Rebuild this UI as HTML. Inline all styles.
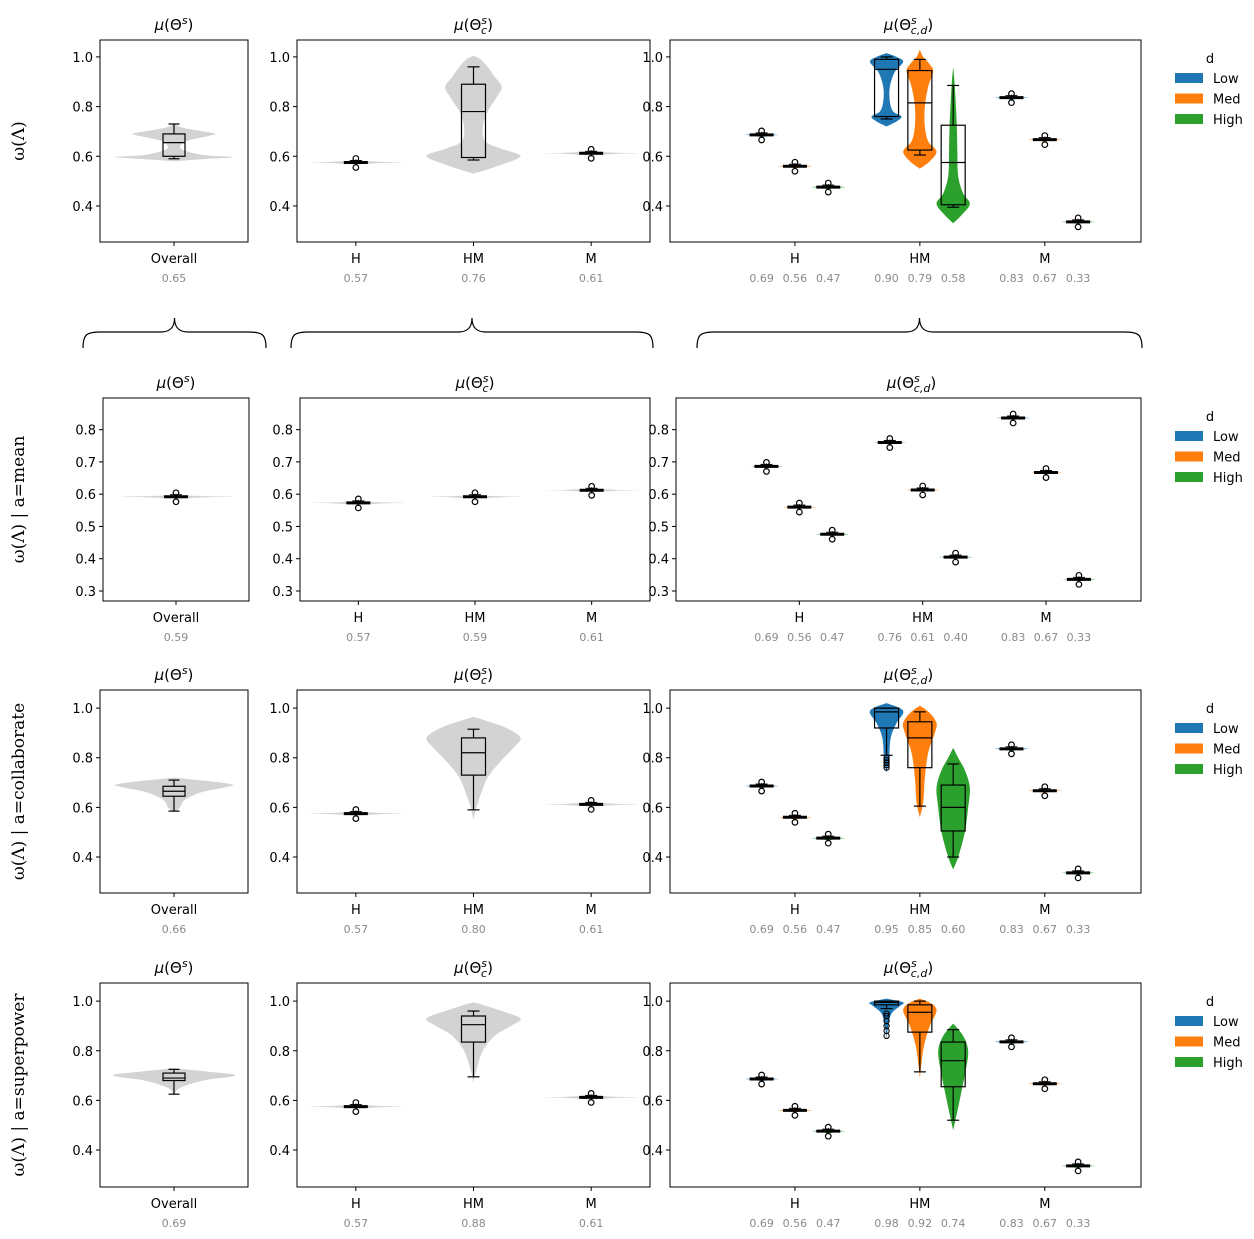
<!DOCTYPE html>
<html><head><meta charset="utf-8">
<style>
html,body{margin:0;padding:0;background:#fff;}
svg{display:block;font-family:"DejaVu Sans","Liberation Sans",sans-serif;}
</style></head>
<body>
<svg id="fig" width="1254" height="1239" viewBox="0 0 1254 1239" xmlns="http://www.w3.org/2000/svg"></svg>
<script>
// ---------- DATA ----------
const catLabels = ['H','HM','M'];
const hueLabels = ['Low','Med','High'];
const hueColors = ['#1f77b4','#ff7f0e','#2ca02c'];
const rowLabels = ['ω(Λ)','ω(Λ) | a=mean','ω(Λ) | a=collaborate','ω(Λ) | a=superpower'];
const overallMeans = ['0.65','0.59','0.66','0.69'];
const catMeans = [['0.57','0.76','0.61'],['0.57','0.59','0.61'],['0.57','0.80','0.61'],['0.57','0.88','0.61']];
const hueMeans = [
 ['0.69','0.56','0.47','0.90','0.79','0.58','0.83','0.67','0.33'],
 ['0.69','0.56','0.47','0.76','0.61','0.40','0.83','0.67','0.33'],
 ['0.69','0.56','0.47','0.95','0.85','0.60','0.83','0.67','0.33'],
 ['0.69','0.56','0.47','0.98','0.92','0.74','0.83','0.67','0.33']];
const catCenters = [[0.575,null,0.612],[0.573,0.592,0.612],[0.575,null,0.612],[0.575,null,0.612]];
const hueCenters = [
 [0.686,0.560,0.476,null,null,null,0.836,0.667,0.336],
 [0.686,0.560,0.476,0.760,0.613,0.405,0.836,0.667,0.336],
 [0.686,0.560,0.476,null,null,null,0.836,0.667,0.336],
 [0.686,0.560,0.476,null,null,null,0.836,0.667,0.336]];
const overallCenters = [null,0.592,null,null];
const overallViolin = [
 [[0.58,0],[0.59,0.6],[0.597,1],[0.605,0.5],[0.63,0.12],[0.66,0.2],[0.68,0.55],[0.69,0.7],[0.70,0.5],[0.715,0.15],[0.73,0]],
 null,
 [[0.58,0],[0.6,0.1],[0.63,0.18],[0.66,0.45],[0.68,0.85],[0.69,1],[0.70,0.8],[0.715,0.2],[0.72,0]],
 [[0.62,0],[0.65,0.1],[0.68,0.5],[0.695,0.95],[0.705,1],[0.715,0.6],[0.73,0]]];
const overallBox = [[0.59,0.60,0.655,0.69,0.73],null,[0.585,0.645,0.665,0.685,0.71],[0.625,0.68,0.69,0.71,0.725]];
const hmViolin = [
 [[0.53,0],[0.56,0.5],[0.60,1],[0.63,0.6],[0.66,0.25],[0.72,0.2],[0.78,0.3],[0.84,0.5],[0.88,0.6],[0.92,0.45],[0.96,0.3],[0.99,0.15],[1.005,0]],
 null,
 [[0.55,0],[0.6,0.06],[0.65,0.15],[0.72,0.3],[0.78,0.55],[0.84,0.85],[0.88,1],[0.92,0.7],[0.95,0.25],[0.965,0]],
 [[0.67,0],[0.72,0.06],[0.8,0.2],[0.86,0.45],[0.9,0.8],[0.93,1],[0.96,0.6],[0.985,0.2],[0.995,0]]];
const hmBox = [[0.585,0.595,0.78,0.89,0.96],null,[0.59,0.73,0.82,0.88,0.915],[0.695,0.835,0.905,0.94,0.96]];
const hmHueViolin = [
 [[[0.72,0],[0.74,0.6],[0.76,0.9],[0.78,0.4],[0.82,0.2],[0.88,0.2],[0.94,0.5],[0.98,1],[1.0,0.6],[1.015,0]],
  [[0.55,0],[0.58,0.6],[0.62,1],[0.66,0.5],[0.72,0.3],[0.8,0.3],[0.88,0.5],[0.94,0.8],[0.97,0.6],[1.0,0.2],[1.03,0]],
  [[0.33,0],[0.37,0.6],[0.41,1],[0.45,0.6],[0.52,0.3],[0.62,0.25],[0.72,0.22],[0.82,0.15],[0.9,0.08],[0.96,0]]],
 null,
 [[[0.74,0],[0.8,0.15],[0.88,0.25],[0.94,0.6],[0.98,1],[1.0,0.8],[1.02,0]],
  [[0.56,0],[0.62,0.2],[0.72,0.3],[0.82,0.5],[0.9,0.9],[0.94,1],[0.98,0.6],[1.01,0]],
  [[0.35,0],[0.4,0.3],[0.5,0.7],[0.6,0.9],[0.68,1],[0.75,0.7],[0.8,0.3],[0.84,0]]],
 [[[0.85,0],[0.9,0.1],[0.95,0.3],[0.98,0.8],[0.995,1],[1.01,0]],
  [[0.69,0],[0.74,0.08],[0.82,0.25],[0.9,0.6],[0.96,1],[0.99,0.7],[1.01,0]],
  [[0.48,0],[0.54,0.2],[0.62,0.45],[0.72,0.75],[0.8,0.9],[0.86,0.6],[0.91,0]]]];
const hmHueBox = [
 [[0.75,0.76,0.95,0.99,1.0],[0.605,0.625,0.815,0.945,0.99],[0.395,0.405,0.575,0.725,0.885]],
 null,
 [[0.81,0.92,0.985,1.0,1.0],[0.605,0.76,0.88,0.945,0.985],[0.40,0.505,0.60,0.69,0.775]],
 [[0.97,0.985,0.995,1.0,1.0],[0.715,0.875,0.955,0.985,1.0],[0.52,0.655,0.76,0.835,0.885]]];
const hmHueOutliers = [[[],[],[]],null,[[0.76,0.77,0.78,0.79,0.80],[],[]],[[0.86,0.88,0.90,0.92,0.94,0.95],[],[]]];

// ---------- LAYOUT ----------
const rows = [
 {top:40,bot:242,ymin:0.255,ymax:1.068,ticks:[0.4,0.6,0.8,1.0],p:[[100,248],[297,650],[670,1141]]},
 {top:398,bot:601,ymin:0.269,ymax:0.898,ticks:[0.3,0.4,0.5,0.6,0.7,0.8],p:[[103,249],[300,650],[676,1141]]},
 {top:690,bot:893,ymin:0.255,ymax:1.073,ticks:[0.4,0.6,0.8,1.0],p:[[100,248],[297,650],[670,1141]]},
 {top:983,bot:1187,ymin:0.251,ymax:1.073,ticks:[0.4,0.6,0.8,1.0],p:[[100,248],[297,650],[670,1141]]}];
const NS='http://www.w3.org/2000/svg';
const svg=document.getElementById('fig');
function el(tag,attrs,parent,text){const e=document.createElementNS(NS,tag);for(const k in attrs)e.setAttribute(k,attrs[k]);if(text!==undefined)e.textContent=text;(parent||svg).appendChild(e);return e;}

function smoothPath(pts){
  let d='M'+pts[0][0]+','+pts[0][1];
  for(let i=0;i<pts.length-1;i++){
    const p0=pts[Math.max(0,i-1)],p1=pts[i],p2=pts[i+1],p3=pts[Math.min(pts.length-1,i+2)];
    const c1=[p1[0]+(p2[0]-p0[0])/6,p1[1]+(p2[1]-p0[1])/6];
    const c2=[p2[0]-(p3[0]-p1[0])/6,p2[1]-(p3[1]-p1[1])/6];
    d+=' C'+c1+' '+c2+' '+p2;
  }
  return d;
}
function drawViolin(g,knots,cx,hw,yf,color,name){
  const right=knots.map(k=>[cx+k[1]*hw,yf(k[0])]);
  const left=knots.slice().reverse().map(k=>[cx-k[1]*hw,yf(k[0])]);
  const d=smoothPath(right)+' L'+left[0]+' '+smoothPath(left).slice(1)+' Z';
  const p=el('path',{d:d,fill:color,stroke:'none'},g);
  
  
}
function drawBox(g,b,cx,yf,bw,name){
  const gg=el('g',{},g);
  
  
  const st={stroke:'#000','stroke-width':1.2,fill:'none'};
  el('line',Object.assign({x1:cx,x2:cx,y1:yf(b[0]),y2:yf(b[1])},st),gg);
  el('line',Object.assign({x1:cx,x2:cx,y1:yf(b[3]),y2:yf(b[4])},st),gg);
  el('line',Object.assign({x1:cx-bw/4,x2:cx+bw/4,y1:yf(b[0]),y2:yf(b[0])},st),gg);
  el('line',Object.assign({x1:cx-bw/4,x2:cx+bw/4,y1:yf(b[4]),y2:yf(b[4])},st),gg);
  el('rect',Object.assign({x:cx-bw/2,y:yf(b[3]),width:bw,height:Math.max(0.5,yf(b[1])-yf(b[3]))},st),gg);
  el('line',Object.assign({x1:cx-bw/2,x2:cx+bw/2,y1:yf(b[2]),y2:yf(b[2])},st),gg);
}
function drawSpindle(g,c,cx,hw,yf,color,spread,name){
  drawViolin(g,[[c-spread,0],[c-spread*0.3,0.5],[c,1],[c+spread*0.3,0.5],[c+spread,0]],cx,hw,yf,color,name+'-violin');
  const gg=el('g',{},g);
  
  
  el('line',{x1:cx-12,x2:cx+12,y1:yf(c),y2:yf(c),stroke:'#000','stroke-width':3},gg);
  el('line',{x1:cx-6,x2:cx+6,y1:yf(c)-2,y2:yf(c)-2,stroke:'#000','stroke-width':1},gg);
  el('line',{x1:cx,x2:cx,y1:yf(c)-3,y2:yf(c)+3,stroke:'#000','stroke-width':1.2},gg);
  [yf(c)+5,yf(c)-4].forEach((cy,i)=>{const o=el('circle',{cx:cx,cy:cy,r:2.8,fill:'none',stroke:'#000','stroke-width':1.2},g);
    });
}
function muTitle(g,x,y,sub){
  const t=el('text',{x:x,y:y,'text-anchor':'middle','font-size':15},g);
  
  el('tspan',{'font-style':'italic'},t,'μ');
  el('tspan',{},t,'(Θ');
  el('tspan',{'font-size':11,'font-style':'italic',dy:-6},t,'s');
  if(sub){el('tspan',{'font-size':11,'font-style':'italic',dy:10,dx:-6},t,sub);el('tspan',{dy:-4},t,')');}
  else el('tspan',{dy:6},t,')');
}

rows.forEach((R,ri)=>{
  const rg=el('g',{});
  
  
  const yf=v=>R.bot-(v-R.ymin)/(R.ymax-R.ymin)*(R.bot-R.top);
  const ly=(R.top+R.bot)/2;
  const yl=el('text',{x:0,y:0,transform:`translate(24,${ly}) rotate(-90)`,'text-anchor':'middle','font-size':17,'font-family':'"DejaVu Serif","Liberation Serif",serif'},rg,rowLabels[ri]);
  
  R.p.forEach((px,pi)=>{
    const pg=el('g',{},rg);
    
    
    R.ticks.forEach(t=>{
      const y=yf(t);
      el('line',{x1:px[0]-4,x2:px[0],y1:y,y2:y,stroke:'#000','stroke-width':1},pg);
      const tl=el('text',{x:px[0]-7,y:y+5,'text-anchor':'end','font-size':13},pg,t.toFixed(1));
      
    });
    let xf;
    if(pi===0){xf=v=>px[0]+(v+0.5)*(px[1]-px[0]);}
    else if(pi===1){xf=v=>px[0]+(v+0.5)/3*(px[1]-px[0]);}
    else {const u=(px[1]-px[0])/3.77;xf=v=>px[0]+(v+1.0)*u;}
    const lab=(x,t)=>{
      el('line',{x1:x,x2:x,y1:R.bot,y2:R.bot+4,stroke:'#000'},pg);
      const a=el('text',{x:x,y:R.bot+21,'text-anchor':'middle','font-size':13},pg,t);
      
    };
    const mean=(x,m)=>{const a=el('text',{x:x,y:R.bot+40,'text-anchor':'middle','font-size':11,fill:'#8a8a8a'},pg,m);
      };
    const grey='#d3d3d3';
    const spr=ri===1?0.006:0.009;
    if(pi===0){
      const cx=xf(0),hw=0.4*(px[1]-px[0]);
      if(overallViolin[ri]){drawViolin(pg,overallViolin[ri],cx,hw,yf,grey,'overall-violin');drawBox(pg,overallBox[ri],cx,yf,22,'overall-box');}
      else drawSpindle(pg,overallCenters[ri],cx,hw,yf,grey,spr,'overall');
      lab(cx,'Overall');mean(cx,overallMeans[ri]);
      muTitle(pg,cx,R.top-10,null);
    } else if(pi===1){
      const hw=0.4*(px[1]-px[0])/3;
      catLabels.forEach((c,ci)=>{
        const cx=xf(ci);
        if(catCenters[ri][ci]!==null) drawSpindle(pg,catCenters[ri][ci],cx,hw,yf,grey,spr,'violin-'+c);
        else {drawViolin(pg,hmViolin[ri],cx,hw,yf,grey,'violin-'+c);drawBox(pg,hmBox[ri],cx,yf,24,'box-'+c);}
        lab(cx,c);mean(cx,catMeans[ri][ci]);
      });
      muTitle(pg,(px[0]+px[1])/2,R.top-10,'c');
    } else {
      const u=(px[1]-px[0])/3.77,hw=0.1333*u;
      catLabels.forEach((c,ci)=>{
        lab(xf(ci),c);
        hueLabels.forEach((h,hi)=>{
          const cx=xf(ci+(hi-1)*0.2667);
          const k=ci*3+hi;
          if(hueCenters[ri][k]!==null) drawSpindle(pg,hueCenters[ri][k],cx,hw,yf,hueColors[hi],spr,'violin-'+c+'-'+h);
          else {
            drawViolin(pg,hmHueViolin[ri][hi],cx,hw,yf,hueColors[hi],'violin-'+c+'-'+h);
            drawBox(pg,hmHueBox[ri][hi],cx,yf,24,'box-'+c+'-'+h);
            hmHueOutliers[ri][hi].forEach(v=>{const o=el('circle',{cx:cx,cy:yf(v),r:2.6,fill:'none',stroke:'#000','stroke-width':1.1},pg);
              });
          }
          mean(cx,hueMeans[ri][k]);
        });
      });
      muTitle(pg,(px[0]+px[1])/2+3,R.top-10,'c,d');
      const lg=el('g',{},rg);
      
      el('text',{x:1210,y:R.top+23,'text-anchor':'middle','font-size':13},lg,'d');
      hueLabels.forEach((h,hi)=>{
        const y=R.top+33+hi*20.5;
        const e=el('g',{},lg);
        
        el('rect',{x:1175,y:y,width:28,height:10,fill:hueColors[hi]},e);
        el('text',{x:1213,y:y+10,'font-size':13},e,h);
      });
    }
    el('rect',{x:px[0],y:R.top,width:px[1]-px[0],height:R.bot-R.top,fill:'none',stroke:'#000','stroke-width':1},pg);
  });
});
[[83,266],[291,653],[697,1142]].forEach((b,i)=>{
  const m=(b[0]+b[1])/2,r=14;
  const d=`M${b[0]},348 C${b[0]},334 ${b[0]+4},332 ${b[0]+r+4},332 L${m-r},332 C${m-5},332 ${m},328 ${m},318 C${m},328 ${m+5},332 ${m+r},332 L${b[1]-r-4},332 C${b[1]-4},332 ${b[1]},334 ${b[1]},348`;
  const p=el('path',{d:d,fill:'none',stroke:'#000','stroke-width':1.2});
  
  
});
</script>
</body></html>
